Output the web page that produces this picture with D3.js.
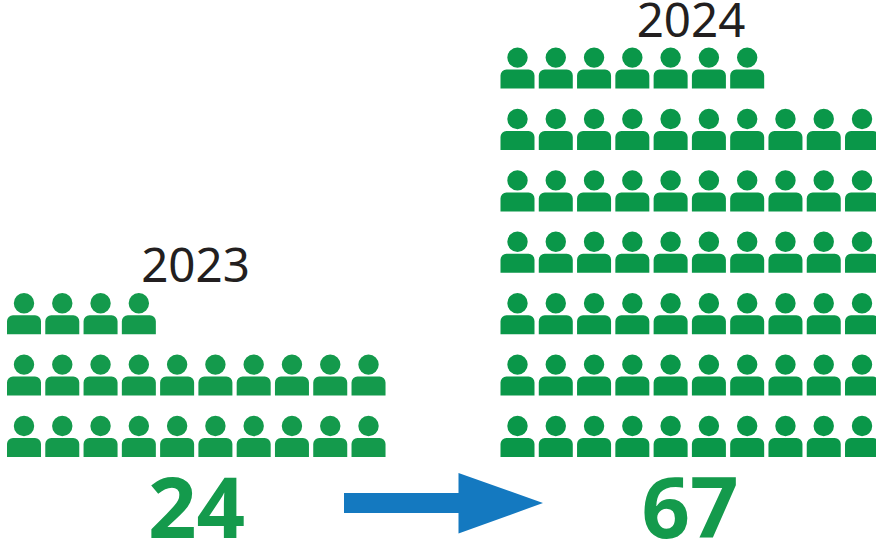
<!DOCTYPE html>
<html>
<head>
<meta charset="utf-8">
<script src="https://cdn.jsdelivr.net/npm/d3@7"></script>
<style>
    html, body {margin: 0; padding: 0; background: #fff; overflow: hidden;}
    svg {display: block;}
    text {font-family: "Noto Sans", sans-serif;}
</style>
</head>
<body>
<div id="chart"></div>
<script>
// Values
let years = ["2023", "2024"];
let counts = [24, 67];
let iconColors = ["#149a4c", "#0a9749"];
let perRow = 10;

let width = 876, height = 542;

let svg = d3.select("#chart").append("svg")
    .attr("width", width)
    .attr("height", height);

// One person: head + shoulders, origin at bottom left of the body
function personPath() {
    let w = 34, h = 19, r = 6, cr = 10.2;
    let p = d3.path();
    p.moveTo(0, 0);
    p.lineTo(0, -h + r);
    p.arcTo(0, -h, r, -h, r);
    p.lineTo(w - r, -h);
    p.arcTo(w, -h, w, -h + r, r);
    p.lineTo(w, 0);
    p.closePath();
    p.moveTo(w / 2 + cr, -31);
    p.arc(w / 2, -31, cr, 0, 2 * Math.PI);
    return p.toString();
}

// Panel settings, one per year
let panels = [
    {x0: 7, labelX: 195.5, labelY: 282, totalX: 196.5},
    {x0: 500.5, labelX: 691, labelY: 37, totalX: 690}
];

let y = d3.scaleLinear().domain([0, 1]).range([457, 395.6]);

panels.forEach((panel, i) => {
    let x = d3.scaleLinear().domain([0, 1]).range([panel.x0, panel.x0 + 38.28]);
    let people = d3.range(counts[i]).map(n => ({col: n % perRow, row: Math.floor(n / perRow)}));

    svg.append("g")
        .selectAll("path")
        .data(people)
        .enter()
        .append("path")
        .attr("d", personPath())
        .attr("fill", iconColors[i])
        .attr("transform", d => "translate(" + x(d.col) + "," + y(d.row) + ")");

    svg.append("text")
        .attr("x", panel.labelX)
        .attr("y", panel.labelY)
        .attr("text-anchor", "middle")
        .attr("font-size", 47.5)
        .attr("fill", "#231f20")
        .text(years[i]);

    svg.append("text")
        .attr("x", panel.totalX)
        .attr("y", 538)
        .attr("text-anchor", "middle")
        .attr("font-size", 85)
        .attr("font-weight", 700)
        .attr("fill", "#149a4c")
        .text(counts[i]);
});

// Arrow between the two totals
let arrow = d3.path();
arrow.moveTo(344, 493);
arrow.lineTo(458.5, 493);
arrow.lineTo(458.5, 473);
arrow.lineTo(543, 503);
arrow.lineTo(458.5, 533.5);
arrow.lineTo(458.5, 513);
arrow.lineTo(344, 513);
arrow.closePath();

svg.append("path")
    .attr("d", arrow.toString())
    .attr("fill", "#1479c0");
</script>
</body>
</html>
